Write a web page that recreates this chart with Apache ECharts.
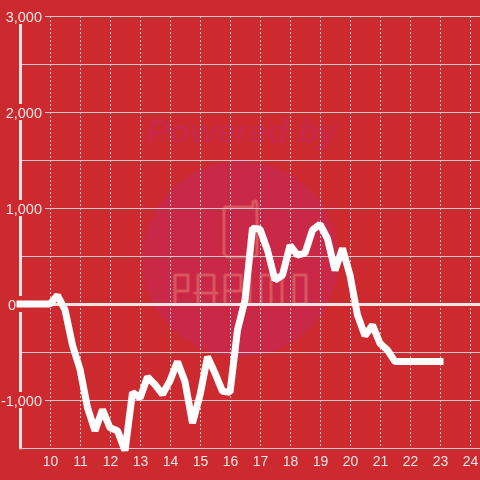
<!DOCTYPE html>
<html>
<head>
<meta charset="utf-8">
<style>html,body{margin:0;padding:0;background:#cc2a2e}#c{width:480px;height:480px}</style>
<script src="https://cdn.jsdelivr.net/npm/echarts@6/dist/echarts.min.js"></script>
</head>
<body>
<div id="c"></div>
<script>
const hours = [9,9.25,9.5,9.75,10,10.25,10.5,10.75,11,11.25,11.5,11.75,12,12.25,12.5,12.75,13,13.25,13.5,13.75,14,14.25,14.5,14.75,15,15.25,15.5,15.75,16,16.25,16.5,16.75,17,17.25,17.5,17.75,18,18.25,18.5,18.75,19,19.25,19.5,19.75,20,20.25,20.5,20.75,21,21.25,21.5,21.75,22,22.25,22.5,22.75,23];
const values = [0,0,0,0,0,90,-60,-430,-680,-1080,-1320,-1100,-1290,-1320,-1530,-920,-980,-760,-840,-940,-800,-600,-810,-1240,-950,-550,-720,-910,-920,-270,40,790,780,560,250,300,610,510,530,770,830,680,350,580,300,-115,-330,-220,-410,-480,-600,-600,-600,-600,-600,-600,-600];
const yLabels = [-1000,0,1000,2000,3000];
const BG = '#cc2a2e', FG = '#f2e4e4', GRID = '#cfc9c9', MARK = '#d9555f';
const chart = echarts.init(document.getElementById('c'), null, {renderer:'canvas'});
const letter = pts => ({type:'polyline', z:-1, shape:{points:pts}, style:{fill:null, stroke:MARK, lineWidth:3, lineJoin:'round', lineCap:'round'}});
chart.setOption({
  backgroundColor: BG,
  animation: false,
  textStyle: {fontFamily:'Liberation Sans'},
  graphic: [
    {type:'circle', z:-2, shape:{cx:240.5,cy:259,r:98}, style:{fill:'#c92947'}},
    {type:'text', z:-2, x:242, y:134, style:{text:'Powered by', font:'italic bold 34px "Liberation Sans"', fill:'#c92947', align:'center', verticalAlign:'middle'}},
    letter([[225,207],[253,207],[253,202],[256,201],[257,204],[257,254],[254,257],[227,257],[224,254],[224,209],[226,207]]),
    letter([[175,304],[175,275],[188,275],[188,291],[175,291]]),
    letter([[198,304],[198,275],[214,275],[214,304]]),
    letter([[195,293],[217,293]]),
    letter([[225,304],[225,275],[241,275],[241,291],[225,291]]),
    letter([[250,275],[250,304]]),
    letter([[261,304],[261,275],[282,275],[282,304]]),
    letter([[271,275],[271,304]]),
    letter([[294,275],[306,275],[306,304],[294,304],[294,275]])
  ],
  grid: {left:20, right:0, top:16, height:432, containLabel:false, outerBoundsMode:'none'},
  xAxis: [{
    type:'value', min:9, max:9+460/30, interval:1,
    axisLine:{show:true, onZero:false, lineStyle:{color:GRID, width:1}},
    axisTick:{show:false},
    axisLabel:{color:FG, fontSize:14, margin:7, padding:[0,0,0,1], showMinLabel:false, showMaxLabel:false, hideOverlap:false,
      formatter:v => Number.isInteger(v) ? String(v) : ''},
    splitLine:{show:true, showMinLine:false, showMaxLine:false, lineStyle:{color:GRID, width:1, type:[2,2]}}
  }],
  yAxis: [{
    type:'value', min:-1500, max:3000, interval:500,
    axisLine:{show:true, onZero:false, lineStyle:{color:FG, width:3}},
    axisTick:{show:false},
    axisLabel:{color:FG, fontSize:14.5, margin:-25, showMinLabel:true, showMaxLabel:true, hideOverlap:false,
      backgroundColor:BG, padding:[4,3,0,2], lineHeight:12,
      formatter:v => {
        if (!yLabels.includes(v)) return '';
        if (v === 0) return '{z|0}';
        return v.toLocaleString('en-US');
      },
      rich:{z:{color:FG, fontSize:14.5, padding:[0,26,0,0], backgroundColor:'transparent'}}
    },
    splitLine:{show:true, lineStyle:{color:GRID, width:1}}
  }],
  series: [{
    type:'line', data:hours.map((h,i)=>[h,values[i]]), showSymbol:false, symbol:'none', smooth:false,
    lineStyle:{color:'#ffffff', width:7, cap:'square', join:'bevel'},
    markLine:{silent:true, symbol:'none', label:{show:false}, animation:false, z:1,
      data:[{yAxis:0}], lineStyle:{color:FG, width:3, type:'solid'}}
  }]
});
</script>
</body>
</html>
